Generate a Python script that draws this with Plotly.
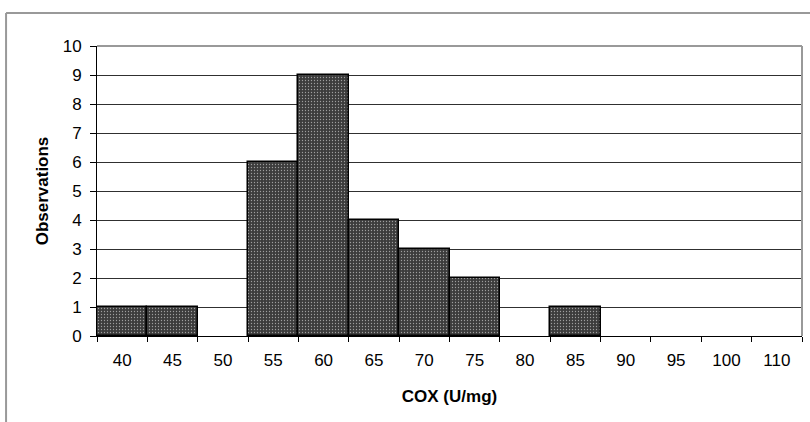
import plotly.graph_objects as go

categories = ["40", "45", "50", "55", "60", "65", "70", "75", "80", "85", "90", "95", "100", "110"]
observations = [1, 1, 0, 6, 9, 4, 3, 2, 0, 1, 0, 0, 0, 0]
y_ticks = list(range(0, 11))

bar_values = [v if v > 0 else None for v in observations]

fig = go.Figure()
fig.add_trace(go.Bar(
    x=categories, y=bar_values,
    marker=dict(
        color="#3c3c3c",
        line=dict(color="#000000", width=1.5),
        pattern=dict(shape=".", fgcolor="#ffffff", bgcolor="#3c3c3c", size=3, solidity=0.15),
    ),
))

fig.update_layout(
    width=810, height=422,
    margin=dict(l=97, r=8, t=46, b=86),
    paper_bgcolor="white", plot_bgcolor="white",
    bargap=0, showlegend=False,
    font=dict(family="Liberation Sans, Arial, sans-serif", size=17, color="#000"),
    xaxis=dict(
        type="category", showline=True, linecolor="#000", linewidth=1,
        ticks="outside", ticklen=5, tickcolor="#000", tickson="boundaries",
        showgrid=False, tickfont=dict(size=17), ticklabelstandoff=9,
        title=dict(text="<b>COX (U/mg)</b>", font=dict(size=17), standoff=20),
    ),
    yaxis=dict(
        range=[0, 10], tickvals=y_ticks, showline=True, linecolor="#000", linewidth=1,
        ticks="outside", ticklen=6, tickcolor="#000",
        showgrid=True, gridcolor="#303030", gridwidth=1, zeroline=False,
        tickfont=dict(size=17), ticklabelstandoff=5,
        title=dict(text="<b>Observations</b>", font=dict(size=17), standoff=9),
    ),
    shapes=[
        dict(type="line", xref="paper", yref="paper", x0=0, x1=1, y0=1, y1=1,
             line=dict(color="#999999", width=2), layer="above"),
        dict(type="line", xref="paper", yref="paper", x0=1, x1=1, y0=0, y1=1,
             line=dict(color="#999999", width=2), layer="above"),
        dict(type="line", xref="paper", yref="paper", x0=-0.129, x1=1.2, y0=1.114, y1=1.114,
             line=dict(color="#999999", width=2)),
        dict(type="line", xref="paper", yref="paper", x0=-0.129, x1=-0.129, y0=-0.35, y1=1.114,
             line=dict(color="#999999", width=2)),
    ],
)

fig.write_html("out.html")
